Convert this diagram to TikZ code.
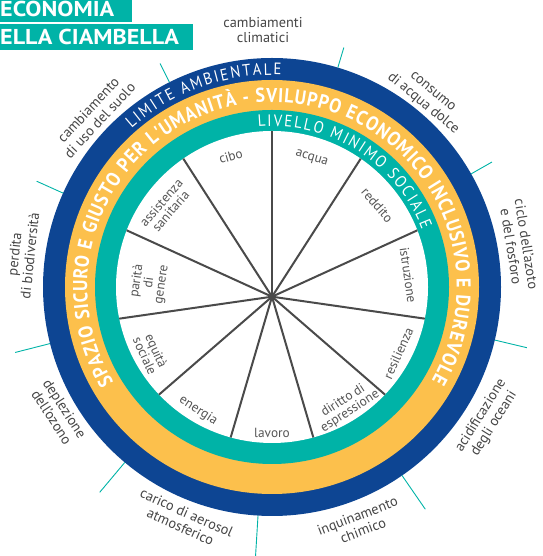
\documentclass[tikz,border=0pt]{standalone}
\usepackage{fontspec}
\setmainfont{PT Sans}
\newfontfamily\titlefont{PT Sans}[FakeStretch=1.12]
\newfontfamily\condfont{PT Sans}[FakeStretch=0.9]
\usetikzlibrary{decorations.text,calc}
\definecolor{ringblue}{HTML}{0D4593}
\definecolor{ringyellow}{HTML}{FCC04C}
\definecolor{ringteal}{HTML}{00B3A7}
\definecolor{outergray}{HTML}{454545}
\definecolor{innergray}{HTML}{555555}
\definecolor{spokegray}{HTML}{4A4A4A}
\newcommand\ringfont{\condfont\fontsize{16.5}{16.5}\selectfont}
\newcommand\yellowfont{\condfont\bfseries\fontsize{20}{20}\selectfont}
\tikzset{
  outerlabel/.style={font=\fontsize{14.3}{15.5}\selectfont, text=outergray, align=center, inner sep=0pt},
  innerlabel/.style={font=\fontsize{13.3}{12.5}\selectfont, text=innergray, align=center, inner sep=0pt},
  boundarytick/.style={draw=ringteal, line width=0.9pt},
  spokeline/.style={draw=spokegray, line width=2pt},
  titletext/.style={font=\titlefont\bfseries\fontsize{21.5}{21.5}\selectfont, text=white, inner sep=0pt},
  ringtext/.style={decorate, decoration={text along path, text color=white, text align={fit to path}}}
}
\begin{document}
\begin{tikzpicture}[x=1pt,y=1pt]
\useasboundingbox (0,0) rectangle (542,556);
\clip (0,0) rectangle (542,556);
% title
\fill[ringteal] (0,534) rectangle (132,560);
\fill[ringteal] (0,505.5) rectangle (193,532);
\node[titletext, anchor=base west] (t1) at (0,539.3) {ECONOMIA};
\node[titletext, anchor=base west] (t2) at (0,511.7) {ELLA CIAMBELLA};
% rings
\coordinate (C) at (272,269);
\coordinate (H) at (272,259.3);
\fill[ringblue] (C) circle (229);
\fill[ringyellow] (C) circle (207);
\fill[ringteal] (C) circle (177);
\fill[white] (C) circle (156);
\begin{scope}
  \clip (C) circle (156);
  \foreach \k in {0,...,10} \draw[spokeline] (H) -- ++({90-\k*360/11}:200);
\end{scope}
% ring texts
\path[ringtext, decoration={text={|\ringfont|LIMITE AMBIENTALE}}]
  ([shift={(131.5:212)}]C) arc[start angle=131.5, end angle=87.5, radius=212];
\path[ringtext, decoration={text={|\yellowfont|SPAZIO SICURO E GIUSTO PER L'UMANITÀ - SVILUPPO ECONOMICO INCLUSIVO E DUREVOLE}}]
  ([shift={(211:184.8)}]C) arc[start angle=211, end angle=-30.3, radius=184.8];
\path[ringtext, decoration={text={|\ringfont|LIVELLO MINIMO SOCIALE}}]
  ([shift={(95:160.6)}]C) arc[start angle=95, end angle=21, radius=160.6];
% boundary ticks
\foreach \a/\r in {73.3/250, 116.6/250, 155.8/258, 194.3/265, 230/268, 266.5/275, 304.6/270, 346.6/262, 29.6/253}
  \draw[boundarytick] ([shift={(\a:229)}]C) -- ([shift={(\a:\r)}]C);
% outer labels
\node[outerlabel, rotate=0] (clima) at ([shift={(92:257)}]C) {cambiamenti\\climatici};
\node[outerlabel, rotate=-39.5] (acqdolce) at ([shift={(50.5:244.4)}]C) {consumo\\di acqua dolce};
\node[outerlabel, rotate=-81] (azoto) at ([shift={(9.6:250.5)}]C) {ciclo dell'azoto\\e del fosforo};
\node[outerlabel, rotate=58] (oceani) at ([shift={(-31.6:253)}]C) {acidificazione\\degli oceani};
\node[outerlabel, rotate=21] (chimico) at ([shift={(-69.5:252)}]C) {inquinamento\\chimico};
\node[outerlabel, rotate=-24] (aerosol) at ([shift={(249.2:249)}]C) {carico di aerosol\\atmosferico};
\node[outerlabel, rotate=-57] (ozono) at ([shift={(210.5:248)}]C) {deplezione\\dell'ozono};
\node[outerlabel, rotate=84] (biodiv) at ([shift={(172.7:252)}]C) {perdita\\di biodiversità};
\node[outerlabel, rotate=47] (suolo) at ([shift={(136:247.5)}]C) {cambiamento\\di uso del suolo};
% inner labels
\node[innerlabel, rotate=16.4] (cibo) at ([shift={(107.5:137.4)}]C) {cibo};
\node[innerlabel, rotate=-16.4] (acqua) at ([shift={(72.9:134.7)}]C) {acqua};
\node[innerlabel, rotate=-49.1] (reddito) at ([shift={(37.9:133.5)}]C) {reddito};
\node[innerlabel, rotate=-81.8] (istruzione) at ([shift={(5:136.8)}]C) {istruzione};
\node[innerlabel, rotate=65.5] (resilienza) at ([shift={(-27.7:142.7)}]C) {resilienza};
\node[innerlabel, rotate=32.7] (diritto) at ([shift={(-57.9:140.5)}]C) {diritto di\\espressione};
\node[innerlabel, rotate=0] (lavoro) at ([shift={(-90:145.7)}]C) {lavoro};
\node[innerlabel, rotate=-32.7] (energia) at ([shift={(-120.8:144)}]C) {energia};
\node[innerlabel, rotate=-65.5] (equita) at ([shift={(-151.3:138.2)}]C) {equità\\sociale};
\node[innerlabel, rotate=81.8] (parita) at ([shift={(178:122.8)}]C) {parità\\di\\genere};
\node[innerlabel, rotate=49.1] (assistenza) at ([shift={(142.9:133)}]C) {assistenza\\sanitaria};
\end{tikzpicture}
\end{document}
